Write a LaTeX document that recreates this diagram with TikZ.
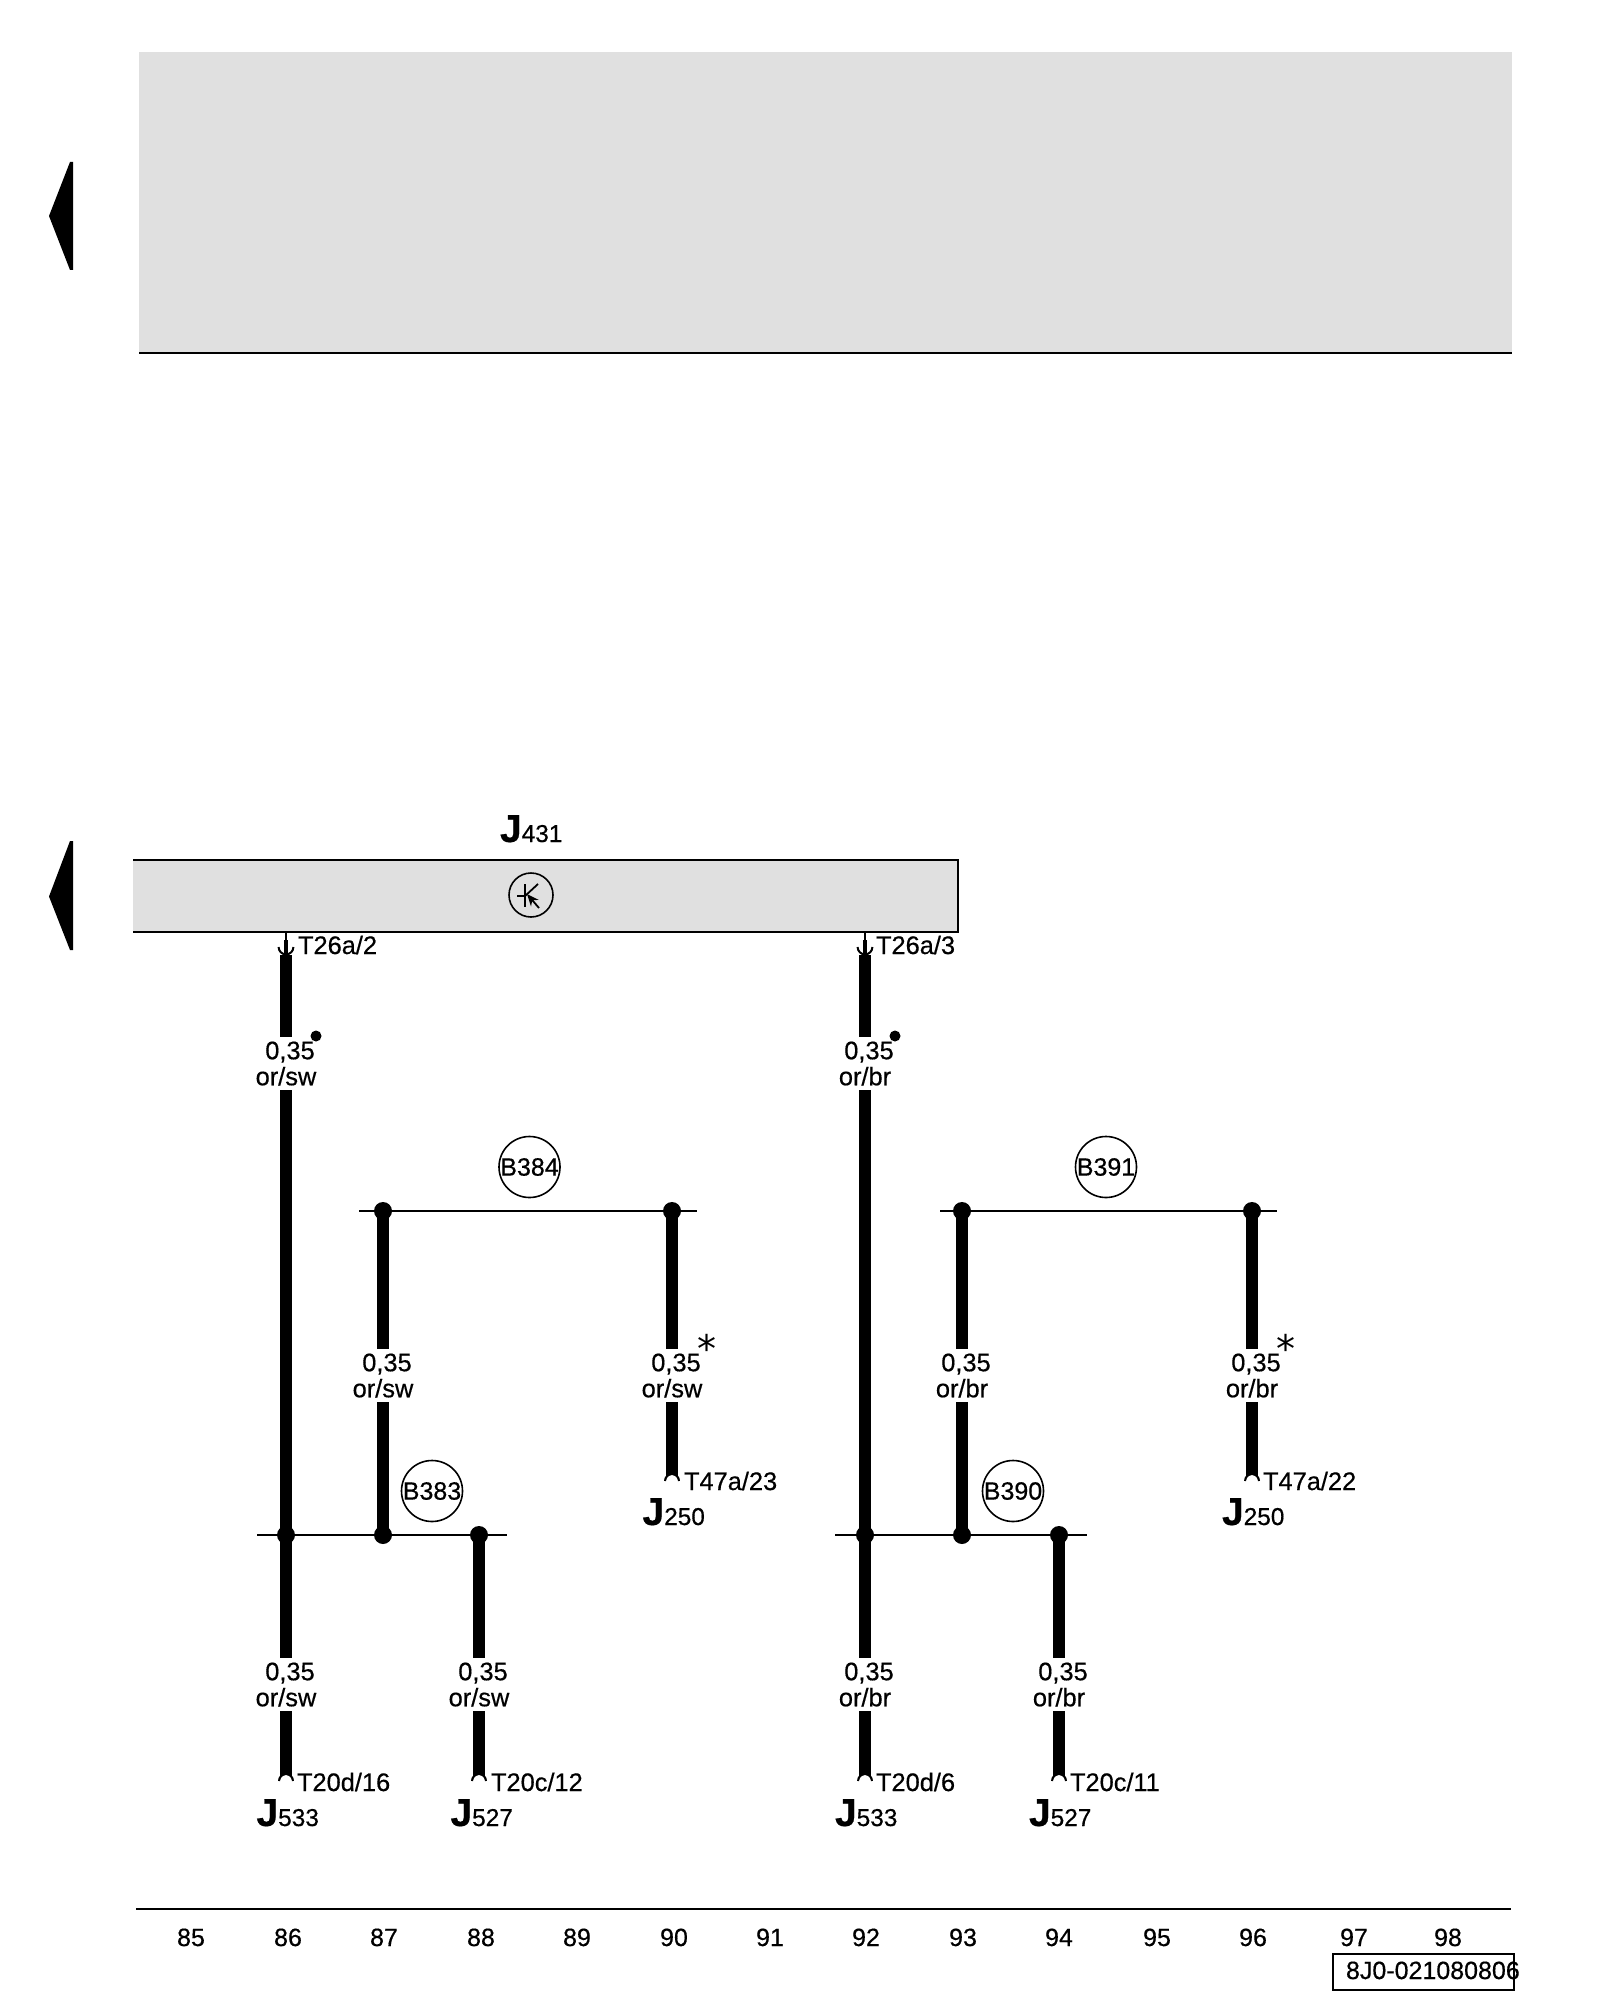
\documentclass[tikz,border=0pt]{standalone}
\usepackage{fontspec}
\setmainfont{Liberation Sans}[FakeBold=0.5]
\newfontfamily\starfont{DejaVu Sans}
\usetikzlibrary{arrows.meta,calc}
\definecolor{panelgray}{HTML}{E0E0E0}
\newcommand{\szlab}{\fontsize{12.7}{13}\selectfont}
\newcommand{\JL}[1]{{\fontsize{19.5}{20}\selectfont\bfseries J}{\fontsize{12.2}{13}\selectfont #1}}
\tikzset{
  x=0.5pt,y=-0.5pt,
  every node/.style={inner sep=0pt,outer sep=0pt,text=black},
  wire/.style={line width=5.8pt,line cap=butt},
  thin rule/.style={line width=1pt},
  rule line/.style={line width=1.1pt},
  junction/.style={circle,fill=black,minimum size=9pt},
  fuse/.style={circle,draw,line width=0.8pt,minimum size=30pt,fill=none,font=\fontsize{12.5}{13}\selectfont},
  wlabel/.style={align=center,minimum height=26.5pt,font=\szlab},
  pinlabel/.style={anchor=base west,font=\szlab},
  unitlabel/.style={anchor=base west},
  gridnum/.style={anchor=base,font=\fontsize{12.5}{13}\selectfont},
  pointer/.style={fill=black,draw=none},
  starmark/.style={font=\starfont\fontsize{19}{19}\selectfont}
}
% bottom connector: ring over a white notch
\newcommand{\pinup}[1]{%
  \fill[white] ([xshift=-3pt]#1) arc[start angle=180,end angle=0,radius=3pt] -- cycle;
  \draw[line width=1pt] ([xshift=-3.5pt]#1) arc[start angle=180,end angle=0,radius=3.5pt];
}
\newcommand{\pindown}[1]{%
  \draw[line width=1pt] ([xshift=-3.7pt,yshift=4pt]#1) arc[start angle=180,end angle=360,radius=3.7pt];
}
\begin{document}
\begin{tikzpicture}
\useasboundingbox (0,0) rectangle (1600,2000);
\fill[white] (0,0) rectangle (1600,2000);
% top panel
\fill[panelgray] (139,52) rectangle (1512,353);
\draw[rule line] (139,353) -- (1512,353);
\fill[pointer] (49,216) -- (70,162) -- (73,162) -- (73,270) -- (70,270) -- cycle;
\fill[pointer] (49,896.5) -- (70,841) -- (73,841) -- (73,950) -- (70,950) -- cycle;
% control unit
\fill[panelgray] (133,860) rectangle (958,932);
\draw[rule line] (133,860) -- (958,860) -- (958,932) -- (133,932);
\node[unitlabel] (J431) at (500,842) {\JL{431}};
% transistor symbol
\node[circle,draw,line width=0.8pt,minimum size=22pt] (sym) at (531,895) {};
\draw[line width=0.9pt] (525,884) -- (525,907);
\draw[line width=0.9pt] (517,896) -- (525,896);
\draw[line width=0.9pt] (525,896) -- (538,884);
\draw[line width=0.9pt,-{Stealth[length=6pt,width=5pt]}] (539,908) -- (527,894);
% coordinates
\foreach \n/\x in {a/286,b/865}{
  \coordinate (top\n) at (\x,955);
  \coordinate (box\n) at (\x,932);
}
% buses
\node[junction] (j1) at (286,1535) {};
\node[junction] (j2) at (383,1535) {};
\node[junction] (j3) at (479,1535) {};
\node[junction] (j4) at (383,1211) {};
\node[junction] (j5) at (672,1211) {};
\node[junction] (j6) at (865,1535) {};
\node[junction] (j7) at (962,1535) {};
\node[junction] (j8) at (1059,1535) {};
\node[junction] (j9) at (962,1211) {};
\node[junction] (j10) at (1252,1211) {};
\coordinate (b1l) at (257,1535); \coordinate (b1r) at (507,1535);
\coordinate (b2l) at (359,1211); \coordinate (b2r) at (697,1211);
\coordinate (b3l) at (835,1535); \coordinate (b3r) at (1087,1535);
\coordinate (b4l) at (940,1211); \coordinate (b4r) at (1277,1211);
\draw[thin rule] (b1l) -- (b1r);
\draw[thin rule] (b2l) -- (b2r);
\draw[thin rule] (b3l) -- (b3r);
\draw[thin rule] (b4l) -- (b4r);
% wire labels
\node[wlabel] (w1)  at (286,1063.5) {\hspace*{4pt}0,35\\or/sw};
\node[wlabel] (w2)  at (286,1684.5) {\hspace*{4pt}0,35\\or/sw};
\node[wlabel] (w3)  at (383,1375.5) {\hspace*{4pt}0,35\\or/sw};
\node[wlabel] (w4)  at (672,1375.5) {\hspace*{4pt}0,35\\or/sw};
\node[wlabel] (w5)  at (479,1684.5) {\hspace*{4pt}0,35\\or/sw};
\node[wlabel] (w6)  at (865,1063.5) {\hspace*{4pt}0,35\\or/br};
\node[wlabel] (w7)  at (865,1684.5) {\hspace*{4pt}0,35\\or/br};
\node[wlabel] (w8)  at (962,1375.5) {\hspace*{4pt}0,35\\or/br};
\node[wlabel] (w9)  at (1252,1375.5) {\hspace*{4pt}0,35\\or/br};
\node[wlabel] (w10) at (1059,1684.5) {\hspace*{4pt}0,35\\or/br};
% wire ends
\coordinate (e2) at (286,1781);
\coordinate (e4) at (672,1481);
\coordinate (e5) at (479,1781);
\coordinate (e7) at (865,1781);
\coordinate (e9) at (1252,1481);
\coordinate (e10) at (1059,1781);
% wires
\draw[wire] (topa) -- (w1.north);
\draw[wire] (w1.south) -- (j1.center) -- (w2.north);
\draw[wire] (w2.south) -- (e2);
\draw[wire] (j4.center) -- (w3.north);
\draw[wire] (w3.south) -- (j2.center);
\draw[wire] (j5.center) -- (w4.north);
\draw[wire] (w4.south) -- (e4);
\draw[wire] (j3.center) -- (w5.north);
\draw[wire] (w5.south) -- (e5);
\draw[wire] (topb) -- (w6.north);
\draw[wire] (w6.south) -- (j6.center) -- (w7.north);
\draw[wire] (w7.south) -- (e7);
\draw[wire] (j9.center) -- (w8.north);
\draw[wire] (w8.south) -- (j7.center);
\draw[wire] (j10.center) -- (w9.north);
\draw[wire] (w9.south) -- (e9);
\draw[wire] (j8.center) -- (w10.north);
\draw[wire] (w10.south) -- (e10);
% connectors
\foreach \e in {e2,e5,e7,e10,e4,e9}{\pinup{\e}}
\foreach \n in {a,b}{
  \draw[line width=0.8pt] (box\n) -- (top\n);
  \draw[line width=2pt] ($(box\n)+(0,8)$) -- (top\n);
  \pindown{top\n}
}
% pin labels
\node[pinlabel] (p1) at (298,954) {T26a/2};
\node[pinlabel] (p2) at (876,954) {T26a/3};
\node[pinlabel] (p3) at (297,1791) {T20d/16};
\node[pinlabel] (p4) at (491,1791) {T20c/12};
\node[pinlabel] (p5) at (876,1791) {T20d/6};
\node[pinlabel] (p6) at (1070,1791) {T20c/11};
\node[pinlabel] (p7) at (684,1490) {T47a/23};
\node[pinlabel] (p8) at (1263,1490) {T47a/22};
% units
\node[unitlabel] (u1) at (256.5,1826) {\JL{533}};
\node[unitlabel] (u2) at (450.5,1826) {\JL{527}};
\node[unitlabel] (u3) at (835,1826) {\JL{533}};
\node[unitlabel] (u4) at (1029,1826) {\JL{527}};
\node[unitlabel] (u5) at (642.5,1525) {\JL{250}};
\node[unitlabel] (u6) at (1222,1525) {\JL{250}};
% fuses
\node[fuse] (B384) at (529.5,1167) {B384};
\node[fuse] (B391) at (1106,1167) {B391};
\node[fuse] (B383) at (432,1491) {B383};
\node[fuse] (B390) at (1013,1491) {B390};
% marks
\node[circle,fill=black,minimum size=5.5pt] (d1) at (316,1036) {};
\node[circle,fill=black,minimum size=5.5pt] (d2) at (895,1036) {};
\node[starmark,anchor=center] (s1) at (707,1348) {*};
\node[starmark,anchor=center] (s2) at (1286,1348) {*};
% bottom rule and grid numbers
\draw[rule line] (136,1909) -- (1511,1909);
\foreach \t/\x in {85/191,86/288,87/384,88/481,89/577,90/674,91/770,92/866,93/963,94/1059,95/1157,96/1253,97/1354,98/1448}{
  \node[gridnum] (g\t) at (\x,1946) {\t};
}
% code box
\draw[line width=1pt] (1333,1954) rectangle (1514,1990);
\node[anchor=base west,font=\fontsize{12.5}{13}\selectfont] (code) at (1346,1979) {8J0-021080806};
\end{tikzpicture}
\end{document}
